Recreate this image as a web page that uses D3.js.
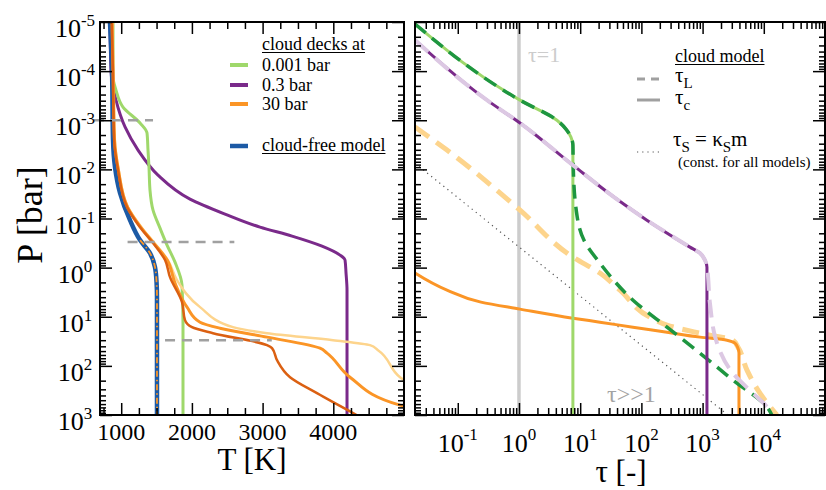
<!DOCTYPE html>
<html>
<head>
<meta charset="utf-8">
<script src="https://cdn.jsdelivr.net/npm/d3@7/dist/d3.min.js"></script>
<style>
  body { margin: 0; background: #fff; }
  svg { display: block; }
</style>
</head>
<body>
<div id="chart"></div>
<script>
// ---------- left panel: temperature profiles, [T (K), P (bar)]
var cloudFree = [[841,1e-5],[870,1e-4],[884,2.5e-3],[912,9e-3],[983,0.03],[1124,0.108],[1266,0.275],[1407,0.507],[1478,0.98],[1500,2],[1506,4],[1506,1000]];
var cloudFreeTwin = [[1266,0.275],[1407,0.507],[1478,0.98],[1500,2],[1506,4],[1506,1000]];
var deck0001 = [[884,1e-5],[884,1.3e-4],[926,2.43e-4],[1025,5.4e-4],[1266,1.14e-3],[1365,1.82e-3],[1379,4.05e-3],[1393,8.97e-3],[1407,0.0264],[1450,0.0675],[1549,0.157],[1648,0.348],[1761,0.773],[1860,2.27],[1874,13.5],[1874,1000]];
var deck03 = [[841,1e-5],[856,1e-4],[926,3.9e-4],[1054,1.37e-3],[1238,4.05e-3],[1520,0.0131],[1973,0.0403],[2468,0.0813],[2963,0.15],[3416,0.228],[3840,0.365],[4095,0.556],[4166,0.703],[4180,1.29],[4194,2.87],[4194,1000]];
var deck30 = [[870,1e-5],[884,1e-4],[905,2.5e-3],[960,0.0103],[1090,0.0586],[1275,0.15],[1460,0.317],[1650,0.703],[1761,2.07],[1931,6.37],[2115,12.9],[2397,17.1],[3062,26],[3812,43.6],[3911,55.1],[4236,170],[4944,631],[5000,662]];
var deck30dark = [[868,1e-5],[882,1e-4],[900,2.5e-3],[955,0.0103],[1082,0.0586],[1266,0.15],[1450,0.317],[1620,0.7],[1690,1.56],[1860,5.04],[1902,11.7],[2001,16.3],[2298,21.6],[3062,37.9],[3133,43.6],[3204,76.6],[3388,170],[3769,360],[4330,1000]];
var deck30light = [[875,1e-5],[890,1e-4],[910,2.5e-3],[965,0.0103],[1095,0.0586],[1285,0.15],[1470,0.317],[1660,0.703],[1789,1.8],[2115,6.37],[2581,16.3],[3062,21.6],[3996,30],[4519,37.9],[4632,47.9],[4944,170],[5000,195]];
// cloud deck markers: [P, Tstart, Tend]
var deckMarks = [[0.001, 615, 1450], [0.3, 1090, 2600], [30, 1620, 3130]];
var deckNames = ["0.001 bar", "0.3 bar", "30 bar"];

// ---------- right panel: optical depth, [tau, P (bar)]
var greenTauC = [[0.02,1.1e-5],[1.04,3.9e-4],[4.17,1e-3],[5.85,1.51e-3],[7.06,2.2e-3],[7.6,3.2e-3],[7.6,1000]];
var greenTauL = [[0.02,1.1e-5],[1.04,3.9e-4],[4.17,1e-3],[5.85,1.51e-3],[7.06,2.2e-3],[7.6,3.2e-3],[7.7,9e-3],[8.5,0.059],[11.5,0.275],[21,0.81],[73,4.6],[262,16.3],[906,55],[3130,195],[11300,690],[14100,1110]];
var purpleTauC = [[0.02,2.33e-5],[0.3,3.9e-4],[1.04,1.14e-3],[7.6,8.2e-3],[35.6,0.0366],[123,0.108],[621,0.382],[906,0.507],[1093,0.703],[1178,0.977],[1178,1000]];
var purpleTauL = [[0.02,2.33e-5],[0.3,3.9e-4],[1.04,1.14e-3],[7.6,8.2e-3],[35.6,0.0366],[123,0.108],[621,0.382],[906,0.507],[1093,0.703],[1178,0.977],[1318,5.3],[1717,34.5],[3130,141],[6650,360],[11300,690],[13600,1110]];
var orangeTauC = [[0.02,1.29],[0.0666,2.87],[0.239,5.04],[1.04,7.0],[7.6,10.7],[21,12.9],[72.8,16.3],[262,20.6],[906,26],[2500,30],[3380,34.5],[3780,43.6],[3930,55],[3930,1000]];
var orangeTauL = [[0.02,1.37e-3],[0.0666,4.05e-3],[1.04,0.0675],[7.6,0.61],[21,1.29],[44.7,2.87],[138,10.2],[262,14.8],[906,21.6],[3130,30],[3780,41.6],[5310,122],[8650,360],[16400,1000]];
var tauS = [[0.02,0.0075],[2600,1000]];

// ticks
var tMajor = [1000, 2000, 3000, 4000];
var pExp = [-5, -4, -3, -2, -1, 0, 1, 2, 3];
var tauExp = [-1, 0, 1, 2, 3, 4];

var W = 826, H = 490;
var svg = d3.select("#chart").append("svg")
    .attr("width", W).attr("height", H)
    .attr("font-family", "'Liberation Serif', Tinos, 'Nimbus Roman', 'Nimbus Roman No9 L', FreeSerif, 'Noto Serif', 'DejaVu Serif', Times, serif");

var yTop = 22, yBot = 415;
var xT = d3.scaleLinear().domain([700, 5000]).range([100, 404]);
var xTau = d3.scaleLog().domain([0.02, 1e5]).range([415, 825]);
var yP = d3.scaleLog().domain([1e-5, 1e3]).range([yTop, yBot]);

function logMinors(lo, hi, dom) {
    var v = [];
    for (var e = lo; e < hi; e++)
        for (var k = 2; k < 10; k++) {
            var t = k * Math.pow(10, e);
            if (t > dom[0] && t < dom[1]) v.push(t);
        }
    return v;
}

var defs = svg.append("defs");
defs.append("clipPath").attr("id", "clipL").append("rect")
    .attr("x", 100).attr("y", yTop).attr("width", 304).attr("height", yBot - yTop);
defs.append("clipPath").attr("id", "clipR").append("rect")
    .attr("x", 415).attr("y", yTop).attr("width", 410).attr("height", yBot - yTop);

// ---------- left panel curves
var lineT = d3.line().curve(d3.curveMonotoneY)
    .x(function(d) { return xT(d[0]); })
    .y(function(d) { return yP(d[1]); });

var gl = svg.append("g").attr("clip-path", "url(#clipL)");

function curve(g, data, line, color, width, dash) {
    g.append("path").datum(data)
        .attr("fill", "none")
        .attr("stroke", color)
        .attr("stroke-width", width)
        .attr("stroke-linejoin", "round")
        .attr("stroke-dasharray", dash || null)
        .attr("d", line);
}

curve(gl, deck03, lineT, "#7a2a8a", 3);
curve(gl, deck0001, lineT, "#9fd86b", 3);
curve(gl, cloudFree, lineT, "#1c5aa5", 4.5);
curve(gl, deck30light, lineT, "#fdd48c", 2.5);
curve(gl, deck30, lineT, "#fb9526", 3);
curve(gl, deck30dark, lineT, "#db6012", 2.5);
curve(gl, cloudFreeTwin, lineT, "#fb9526", 1.8, "6,3,1.5,3");

svg.append("g").selectAll("line").data(deckMarks).enter().append("line")
    .attr("x1", function(d) { return xT(d[1]); })
    .attr("x2", function(d) { return xT(d[2]); })
    .attr("y1", function(d) { return yP(d[0]); })
    .attr("y2", function(d) { return yP(d[0]); })
    .attr("stroke", "#a0a0a0")
    .attr("stroke-width", 2.5)
    .attr("stroke-dasharray", "10,7");

// ---------- right panel curves
var lineTau = d3.line().curve(d3.curveMonotoneY)
    .x(function(d) { return xTau(d[0]); })
    .y(function(d) { return yP(d[1]); });

var gr = svg.append("g").attr("clip-path", "url(#clipR)");

gr.append("line")
    .attr("x1", xTau(1)).attr("x2", xTau(1))
    .attr("y1", yTop).attr("y2", yBot)
    .attr("stroke", "#cccccc").attr("stroke-width", 3.5);

curve(gr, tauS, d3.line().x(function(d) { return xTau(d[0]); }).y(function(d) { return yP(d[1]); }), "#555", 1.2, "1.2,4");
curve(gr, orangeTauL, lineTau, "#fdd48c", 5, "17,9");
curve(gr, orangeTauC, lineTau, "#fb9526", 3);
curve(gr, greenTauC, lineTau, "#9fd86b", 3);
curve(gr, greenTauL, lineTau, "#1e9640", 3.5, "14,8");
curve(gr, purpleTauC, lineTau, "#7a2a8a", 3);
curve(gr, purpleTauL, lineTau, "#dcc8e3", 4, "18,9");

// ---------- axes / frames
function ticks(axis, tr) {
    var a = svg.append("g").attr("transform", tr).call(axis);
    a.select(".domain").remove();
    a.selectAll("line").attr("stroke", "#000").attr("stroke-width", 1.5);
    return a;
}

var pMajor = pExp.map(function(e) { return Math.pow(10, e); });
var pMinor = logMinors(-5, 3, [1e-5, 1e3]);
var tMinor = d3.range(750, 5000, 250).filter(function(v) { return v % 1000 !== 0; });
var tauMajor = d3.range(-1, 5).map(function(e) { return Math.pow(10, e); });
var tauMinor = logMinors(-2, 5, [0.02, 1e5]);

[[100, 404, xT, tMajor, tMinor], [415, 825, xTau, tauMajor, tauMinor]].forEach(function(p) {
    var x0 = p[0], x1 = p[1], sx = p[2];
    ticks(d3.axisBottom(sx).tickValues(p[3]).tickSize(-12).tickFormat(""), "translate(0," + yBot + ")");
    ticks(d3.axisBottom(sx).tickValues(p[4]).tickSize(-7).tickFormat(""), "translate(0," + yBot + ")");
    ticks(d3.axisTop(sx).tickValues(p[3]).tickSize(-12).tickFormat(""), "translate(0," + yTop + ")");
    ticks(d3.axisTop(sx).tickValues(p[4]).tickSize(-7).tickFormat(""), "translate(0," + yTop + ")");
    ticks(d3.axisLeft(yP).tickValues(pMajor).tickSize(-12).tickFormat(""), "translate(" + x0 + ",0)");
    ticks(d3.axisLeft(yP).tickValues(pMinor).tickSize(-6).tickFormat(""), "translate(" + x0 + ",0)");
    ticks(d3.axisRight(yP).tickValues(pMajor).tickSize(-12).tickFormat(""), "translate(" + x1 + ",0)");
    ticks(d3.axisRight(yP).tickValues(pMinor).tickSize(-6).tickFormat(""), "translate(" + x1 + ",0)");
    svg.append("rect")
        .attr("x", x0).attr("y", yTop)
        .attr("width", x1 - x0).attr("height", yBot - yTop)
        .attr("fill", "none").attr("stroke", "#000").attr("stroke-width", 2);
});

// ---------- tick labels
function powLabel(x, y, e, size, sup, rise) {
    var t = svg.append("text").attr("x", x).attr("y", y)
        .attr("text-anchor", "middle").attr("font-size", size);
    t.append("tspan").text("10");
    t.append("tspan").attr("dy", -rise).attr("font-size", sup).text(String(e));
}

pExp.forEach(function(e) {
    powLabel(75, yP(Math.pow(10, e)) + 15, e, 26, 17, 11);
});
tauExp.forEach(function(e) {
    powLabel(xTau(Math.pow(10, e)), 452, e, 26, 17, 12);
});
svg.append("g").selectAll("text").data(tMajor).enter().append("text")
    .attr("x", function(d) { return xT(d); })
    .attr("y", 440)
    .attr("text-anchor", "middle")
    .attr("font-size", 24)
    .text(function(d) { return d; });

// axis titles
svg.append("text")
    .attr("transform", "translate(42,215) rotate(-90)")
    .attr("text-anchor", "middle")
    .attr("font-size", 36)
    .text("P [bar]");
svg.append("text").attr("x", 252).attr("y", 470)
    .attr("text-anchor", "middle").attr("font-size", 31).text("T [K]");
svg.append("text").attr("x", 621).attr("y", 482)
    .attr("text-anchor", "middle").attr("font-size", 31).text("τ [-]");

// in-panel notes
svg.append("text").attr("x", 528).attr("y", 62)
    .attr("font-size", 22).attr("fill", "#cccccc").text("τ=1");
svg.append("text").attr("x", 607).attr("y", 402)
    .attr("font-size", 24).attr("fill", "#a3a3a3").text("τ>>1");

function underlined(x, y, size, txt) {
    var t = svg.append("text").attr("x", x).attr("y", y).attr("font-size", size).text(txt);
    var w = t.node().getComputedTextLength();
    svg.append("line").attr("x1", x).attr("x2", x + w)
        .attr("y1", y + 2.5).attr("y2", y + 2.5)
        .attr("stroke", "#000").attr("stroke-width", 1.2);
}

// ---------- left legend
underlined(262, 50, 18, "cloud decks at");
var legColors = ["#9fd86b", "#7a2a8a", "#fb9526"];
var legY = [65, 85, 104];
deckNames.forEach(function(n, i) {
    svg.append("line").attr("x1", 230).attr("x2", 248)
        .attr("y1", legY[i]).attr("y2", legY[i])
        .attr("stroke", legColors[i]).attr("stroke-width", 4);
    svg.append("text").attr("x", 262).attr("y", legY[i] + 6)
        .attr("font-size", 18).text(n);
});
svg.append("line").attr("x1", 230).attr("x2", 248).attr("y1", 146).attr("y2", 146)
    .attr("stroke", "#1c5aa5").attr("stroke-width", 4.5);
underlined(262, 151, 18, "cloud-free model");

// ---------- right legend
underlined(675, 62, 18, "cloud model");
svg.append("line").attr("x1", 637).attr("x2", 660).attr("y1", 79).attr("y2", 79)
    .attr("stroke", "#a0a0a0").attr("stroke-width", 3).attr("stroke-dasharray", "8,6");
svg.append("line").attr("x1", 637).attr("x2", 660).attr("y1", 100).attr("y2", 100)
    .attr("stroke", "#a0a0a0").attr("stroke-width", 3);
svg.append("line").attr("x1", 637).attr("x2", 660).attr("y1", 152).attr("y2", 152)
    .attr("stroke", "#555").attr("stroke-width", 1.2).attr("stroke-dasharray", "1.2,4");

function subLabel(x, y, parts) {
    var t = svg.append("text").attr("x", x).attr("y", y).attr("font-size", 21);
    var shift = 0;
    parts.forEach(function(p) {
        var s = t.append("tspan").text(p[0]);
        var dy = (p[1] ? 6 : 0) - shift;
        if (dy) s.attr("dy", dy);
        shift = p[1] ? 6 : 0;
        if (p[1]) s.attr("font-size", 15);
    });
}
subLabel(675, 82, [["τ", 0], ["L", 1]]);
subLabel(675, 104, [["τ", 0], ["c", 1]]);
subLabel(673, 146, [["τ", 0], ["S", 1], [" = κ", 0], ["S", 1], ["m", 0]]);
svg.append("text").attr("x", 678).attr("y", 167).attr("font-size", 15)
    .text("(const. for all models)");
</script>
</body>
</html>
